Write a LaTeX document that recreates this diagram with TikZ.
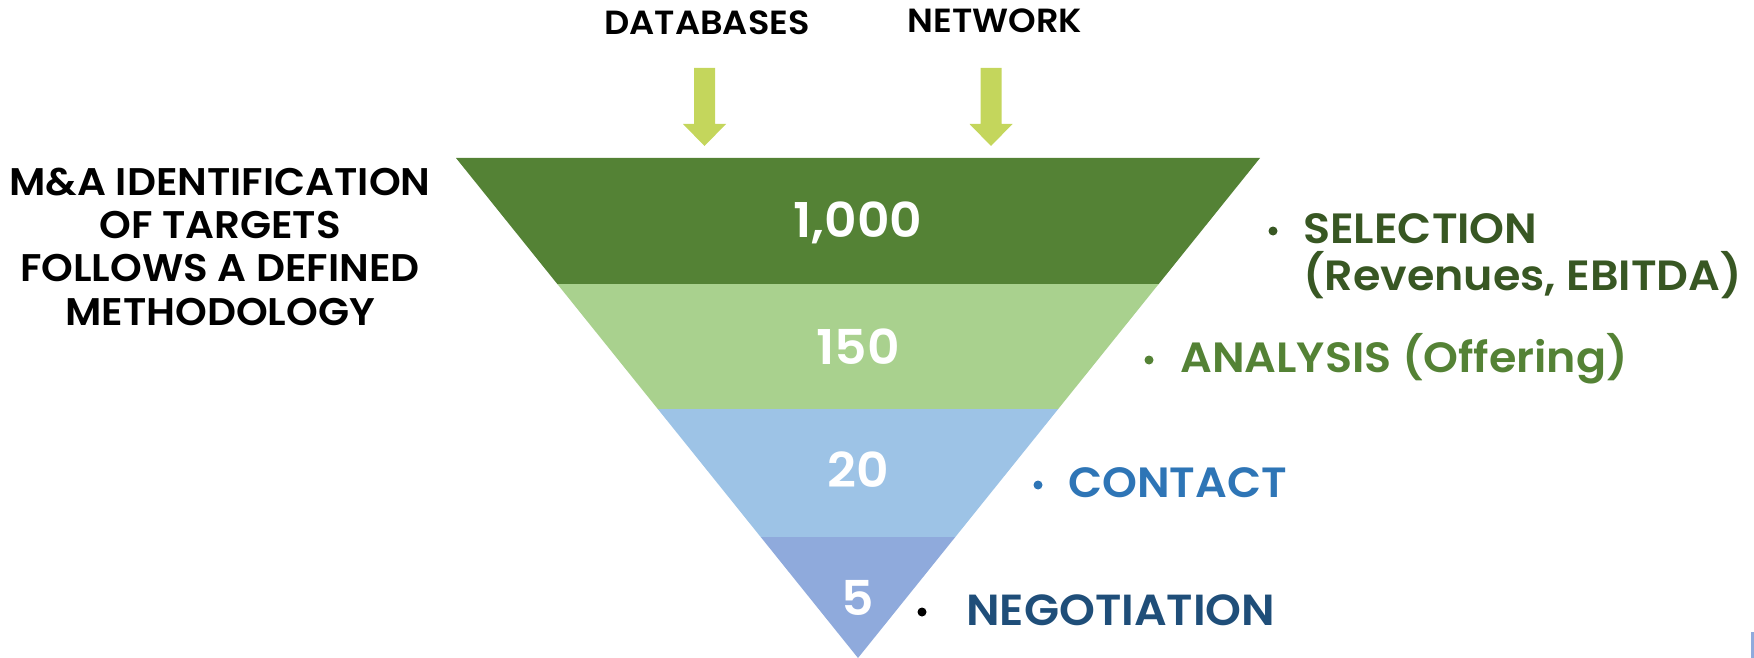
\documentclass[tikz,border=0pt]{standalone}
\usepackage{fontspec}
\setmainfont{Poppins}[BoldFont={* SemiBold},FakeStretch=1.05]
\usetikzlibrary{positioning}

\definecolor{bandsel}{RGB}{84,130,53}
\definecolor{bandana}{RGB}{169,209,142}
\definecolor{bandcon}{RGB}{157,195,230}
\definecolor{bandneg}{RGB}{143,170,220}
\definecolor{feedlime}{RGB}{196,214,92}
\definecolor{txtsel}{RGB}{56,87,35}
\definecolor{txtana}{RGB}{84,130,53}
\definecolor{txtcon}{RGB}{46,117,182}
\definecolor{txtneg}{RGB}{31,78,121}

\begin{document}
\begin{tikzpicture}[x=1pt,y=-1pt,
    toplabel/.style={font=\fontsize{33.5}{38}\selectfont\bfseries,anchor=base,inner sep=0pt},
    stagenum/.style={font=\fontsize{48}{54}\selectfont\bfseries,text=white,anchor=base,inner sep=0pt},
    stagelabel/.style={font=\fontsize{42.3}{47}\selectfont\bfseries,anchor=base west,align=left,inner sep=0pt},
    bulletdot/.style={circle,fill,inner sep=0pt,minimum size=9pt}]
    \useasboundingbox (0,0) rectangle (1754,658);

    % funnel bands
    \fill[bandsel] (456,158) -- (1260,158) -- (1158.7,284) -- (557.3,284) -- cycle;
    \fill[bandana] (557.3,284) -- (1158.7,284) -- (1058.2,409) -- (657.8,409) -- cycle;
    \fill[bandcon] (657.8,409) -- (1058.2,409) -- (955.3,537) -- (760.7,537) -- cycle;
    \fill[bandneg] (760.7,537) -- (955.3,537) -- (858,658) -- cycle;

    \node[stagenum] (n1000) at (858,237) {1,000};
    \node[stagenum] (n150) at (858,364) {150};
    \node[stagenum] (n20) at (858,487) {20};
    \node[stagenum] (n5) at (858,615) {5};

    % sources feeding the funnel
    \node[toplabel] (db) at (707,35) {DATABASES};
    \node[toplabel] (net) at (995,33) {NETWORK};
    \coordinate (dbtop) at (704.5,68);
    \coordinate (nettop) at (991,68);
    \foreach \src in {dbtop,nettop}
        \fill[feedlime] (\src) ++(-10.5,0) -- ++(0,56) -- ++(-11,0) -- ++(21.5,22)
            -- ++(21.5,-22) -- ++(-11,0) -- ++(0,-56) -- cycle;

    \node[font=\fontsize{38.5}{43.3}\selectfont\bfseries,align=center,anchor=base,inner sep=0pt] (title) at (220,325)
        {M\&A IDENTIFICATION\\OF TARGETS\\FOLLOWS A DEFINED\\METHODOLOGY};

    % stage descriptions
    \node[bulletdot,txtsel] (bsel) at (1273,231) {};
    \node[stagelabel,text=txtsel] (sel) at (1303,290) {SELECTION\\(Revenues, EBITDA)};
    \node[bulletdot,txtana] (bana) at (1149,360) {};
    \node[stagelabel,text=txtana] (ana) at (1180,372) {ANALYSIS (Offering)};
    \node[bulletdot,txtcon] (bcon) at (1038,485) {};
    \node[stagelabel,text=txtcon] (con) at (1068,497) {CONTACT};
    \node[bulletdot,black] (bneg) at (922,612) {};
    \node[stagelabel,text=txtneg,font=\fontsize{43.5}{47}\selectfont\bfseries] (neg) at (966,625) {NEGOTIATION};

    \fill[bandneg] (1751,632) rectangle (1754,658);
\end{tikzpicture}
\end{document}
